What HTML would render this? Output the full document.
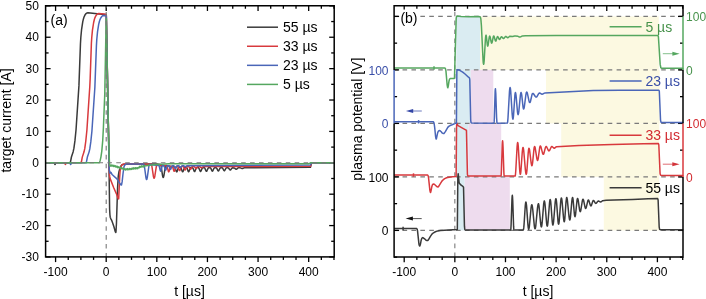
<!DOCTYPE html>
<html><head><meta charset="utf-8"><style>
html,body{margin:0;padding:0;background:#fff;}
svg{display:block;will-change:transform;font-family:"Liberation Sans",sans-serif;}
</style></head><body><svg width="706" height="299" viewBox="0 0 706 299" font-family="Liberation Sans, sans-serif"><rect width="706" height="299" fill="#fff"/><rect x="456.30" y="16.40" width="23.70" height="53.50" fill="#daecf2"/><rect x="480.00" y="16.40" width="178.80" height="53.50" fill="#fcf9e1"/><rect x="455.90" y="69.90" width="14.90" height="53.50" fill="#daecf2"/><rect x="470.80" y="69.90" width="22.50" height="53.50" fill="#eedcee"/><rect x="546.00" y="69.90" width="113.60" height="53.50" fill="#fcf9e1"/><rect x="456.80" y="123.40" width="11.60" height="53.50" fill="#daecf2"/><rect x="468.40" y="123.40" width="32.80" height="53.50" fill="#eedcee"/><rect x="561.20" y="123.40" width="98.00" height="53.50" fill="#fcf9e1"/><rect x="457.40" y="176.90" width="7.30" height="53.50" fill="#daecf2"/><rect x="464.70" y="176.90" width="45.10" height="53.50" fill="#eedcee"/><rect x="603.80" y="176.90" width="55.20" height="53.50" fill="#fcf9e1"/><line x1="394.10" y1="16.40" x2="683.00" y2="16.40" stroke="#7a7a7a" stroke-width="1.1" stroke-dasharray="4.6 4.32" stroke-dashoffset="0.5"/><line x1="394.10" y1="69.90" x2="683.00" y2="69.90" stroke="#7a7a7a" stroke-width="1.1" stroke-dasharray="4.6 4.32" stroke-dashoffset="0.5"/><line x1="394.10" y1="123.40" x2="683.00" y2="123.40" stroke="#7a7a7a" stroke-width="1.1" stroke-dasharray="4.6 4.32" stroke-dashoffset="0.5"/><line x1="394.10" y1="176.90" x2="683.00" y2="176.90" stroke="#7a7a7a" stroke-width="1.1" stroke-dasharray="4.6 4.32" stroke-dashoffset="0.5"/><line x1="394.10" y1="230.40" x2="683.00" y2="230.40" stroke="#7a7a7a" stroke-width="1.1" stroke-dasharray="4.6 4.32" stroke-dashoffset="0.5"/><line x1="454.84" y1="5.75" x2="454.84" y2="257.00" stroke="#7a7a7a" stroke-width="1.1" stroke-dasharray="4.6 4.32" stroke-dashoffset="3.0"/><line x1="55.58" y1="256.90" x2="55.58" y2="262.10" stroke="#000" stroke-width="1.3" /><line x1="55.58" y1="5.75" x2="55.58" y2="10.95" stroke="#000" stroke-width="1.3" /><line x1="68.24" y1="256.90" x2="68.24" y2="259.90" stroke="#000" stroke-width="1.3" /><line x1="68.24" y1="5.75" x2="68.24" y2="8.75" stroke="#000" stroke-width="1.3" /><line x1="80.89" y1="256.90" x2="80.89" y2="259.90" stroke="#000" stroke-width="1.3" /><line x1="80.89" y1="5.75" x2="80.89" y2="8.75" stroke="#000" stroke-width="1.3" /><line x1="93.55" y1="256.90" x2="93.55" y2="259.90" stroke="#000" stroke-width="1.3" /><line x1="93.55" y1="5.75" x2="93.55" y2="8.75" stroke="#000" stroke-width="1.3" /><line x1="106.20" y1="256.90" x2="106.20" y2="262.10" stroke="#000" stroke-width="1.3" /><line x1="106.20" y1="5.75" x2="106.20" y2="10.95" stroke="#000" stroke-width="1.3" /><line x1="118.86" y1="256.90" x2="118.86" y2="259.90" stroke="#000" stroke-width="1.3" /><line x1="118.86" y1="5.75" x2="118.86" y2="8.75" stroke="#000" stroke-width="1.3" /><line x1="131.51" y1="256.90" x2="131.51" y2="259.90" stroke="#000" stroke-width="1.3" /><line x1="131.51" y1="5.75" x2="131.51" y2="8.75" stroke="#000" stroke-width="1.3" /><line x1="144.16" y1="256.90" x2="144.16" y2="259.90" stroke="#000" stroke-width="1.3" /><line x1="144.16" y1="5.75" x2="144.16" y2="8.75" stroke="#000" stroke-width="1.3" /><line x1="156.82" y1="256.90" x2="156.82" y2="262.10" stroke="#000" stroke-width="1.3" /><line x1="156.82" y1="5.75" x2="156.82" y2="10.95" stroke="#000" stroke-width="1.3" /><line x1="169.47" y1="256.90" x2="169.47" y2="259.90" stroke="#000" stroke-width="1.3" /><line x1="169.47" y1="5.75" x2="169.47" y2="8.75" stroke="#000" stroke-width="1.3" /><line x1="182.13" y1="256.90" x2="182.13" y2="259.90" stroke="#000" stroke-width="1.3" /><line x1="182.13" y1="5.75" x2="182.13" y2="8.75" stroke="#000" stroke-width="1.3" /><line x1="194.78" y1="256.90" x2="194.78" y2="259.90" stroke="#000" stroke-width="1.3" /><line x1="194.78" y1="5.75" x2="194.78" y2="8.75" stroke="#000" stroke-width="1.3" /><line x1="207.44" y1="256.90" x2="207.44" y2="262.10" stroke="#000" stroke-width="1.3" /><line x1="207.44" y1="5.75" x2="207.44" y2="10.95" stroke="#000" stroke-width="1.3" /><line x1="220.09" y1="256.90" x2="220.09" y2="259.90" stroke="#000" stroke-width="1.3" /><line x1="220.09" y1="5.75" x2="220.09" y2="8.75" stroke="#000" stroke-width="1.3" /><line x1="232.75" y1="256.90" x2="232.75" y2="259.90" stroke="#000" stroke-width="1.3" /><line x1="232.75" y1="5.75" x2="232.75" y2="8.75" stroke="#000" stroke-width="1.3" /><line x1="245.40" y1="256.90" x2="245.40" y2="259.90" stroke="#000" stroke-width="1.3" /><line x1="245.40" y1="5.75" x2="245.40" y2="8.75" stroke="#000" stroke-width="1.3" /><line x1="258.06" y1="256.90" x2="258.06" y2="262.10" stroke="#000" stroke-width="1.3" /><line x1="258.06" y1="5.75" x2="258.06" y2="10.95" stroke="#000" stroke-width="1.3" /><line x1="270.71" y1="256.90" x2="270.71" y2="259.90" stroke="#000" stroke-width="1.3" /><line x1="270.71" y1="5.75" x2="270.71" y2="8.75" stroke="#000" stroke-width="1.3" /><line x1="283.37" y1="256.90" x2="283.37" y2="259.90" stroke="#000" stroke-width="1.3" /><line x1="283.37" y1="5.75" x2="283.37" y2="8.75" stroke="#000" stroke-width="1.3" /><line x1="296.02" y1="256.90" x2="296.02" y2="259.90" stroke="#000" stroke-width="1.3" /><line x1="296.02" y1="5.75" x2="296.02" y2="8.75" stroke="#000" stroke-width="1.3" /><line x1="308.68" y1="256.90" x2="308.68" y2="262.10" stroke="#000" stroke-width="1.3" /><line x1="308.68" y1="5.75" x2="308.68" y2="10.95" stroke="#000" stroke-width="1.3" /><line x1="321.33" y1="256.90" x2="321.33" y2="259.90" stroke="#000" stroke-width="1.3" /><line x1="321.33" y1="5.75" x2="321.33" y2="8.75" stroke="#000" stroke-width="1.3" /><line x1="333.99" y1="256.90" x2="333.99" y2="259.90" stroke="#000" stroke-width="1.3" /><line x1="333.99" y1="5.75" x2="333.99" y2="8.75" stroke="#000" stroke-width="1.3" /><line x1="45.60" y1="256.97" x2="50.60" y2="256.97" stroke="#000" stroke-width="1.3" /><line x1="334.20" y1="256.97" x2="329.20" y2="256.97" stroke="#000" stroke-width="1.3" /><line x1="45.60" y1="241.28" x2="48.60" y2="241.28" stroke="#000" stroke-width="1.3" /><line x1="334.20" y1="241.28" x2="331.20" y2="241.28" stroke="#000" stroke-width="1.3" /><line x1="45.60" y1="225.58" x2="50.60" y2="225.58" stroke="#000" stroke-width="1.3" /><line x1="334.20" y1="225.58" x2="329.20" y2="225.58" stroke="#000" stroke-width="1.3" /><line x1="45.60" y1="209.88" x2="48.60" y2="209.88" stroke="#000" stroke-width="1.3" /><line x1="334.20" y1="209.88" x2="331.20" y2="209.88" stroke="#000" stroke-width="1.3" /><line x1="45.60" y1="194.19" x2="50.60" y2="194.19" stroke="#000" stroke-width="1.3" /><line x1="334.20" y1="194.19" x2="329.20" y2="194.19" stroke="#000" stroke-width="1.3" /><line x1="45.60" y1="178.50" x2="48.60" y2="178.50" stroke="#000" stroke-width="1.3" /><line x1="334.20" y1="178.50" x2="331.20" y2="178.50" stroke="#000" stroke-width="1.3" /><line x1="45.60" y1="162.80" x2="50.60" y2="162.80" stroke="#000" stroke-width="1.3" /><line x1="334.20" y1="162.80" x2="329.20" y2="162.80" stroke="#000" stroke-width="1.3" /><line x1="45.60" y1="147.11" x2="48.60" y2="147.11" stroke="#000" stroke-width="1.3" /><line x1="334.20" y1="147.11" x2="331.20" y2="147.11" stroke="#000" stroke-width="1.3" /><line x1="45.60" y1="131.41" x2="50.60" y2="131.41" stroke="#000" stroke-width="1.3" /><line x1="334.20" y1="131.41" x2="329.20" y2="131.41" stroke="#000" stroke-width="1.3" /><line x1="45.60" y1="115.72" x2="48.60" y2="115.72" stroke="#000" stroke-width="1.3" /><line x1="334.20" y1="115.72" x2="331.20" y2="115.72" stroke="#000" stroke-width="1.3" /><line x1="45.60" y1="100.02" x2="50.60" y2="100.02" stroke="#000" stroke-width="1.3" /><line x1="334.20" y1="100.02" x2="329.20" y2="100.02" stroke="#000" stroke-width="1.3" /><line x1="45.60" y1="84.33" x2="48.60" y2="84.33" stroke="#000" stroke-width="1.3" /><line x1="334.20" y1="84.33" x2="331.20" y2="84.33" stroke="#000" stroke-width="1.3" /><line x1="45.60" y1="68.63" x2="50.60" y2="68.63" stroke="#000" stroke-width="1.3" /><line x1="334.20" y1="68.63" x2="329.20" y2="68.63" stroke="#000" stroke-width="1.3" /><line x1="45.60" y1="52.94" x2="48.60" y2="52.94" stroke="#000" stroke-width="1.3" /><line x1="334.20" y1="52.94" x2="331.20" y2="52.94" stroke="#000" stroke-width="1.3" /><line x1="45.60" y1="37.24" x2="50.60" y2="37.24" stroke="#000" stroke-width="1.3" /><line x1="334.20" y1="37.24" x2="329.20" y2="37.24" stroke="#000" stroke-width="1.3" /><line x1="45.60" y1="21.55" x2="48.60" y2="21.55" stroke="#000" stroke-width="1.3" /><line x1="334.20" y1="21.55" x2="331.20" y2="21.55" stroke="#000" stroke-width="1.3" /><line x1="45.60" y1="5.85" x2="50.60" y2="5.85" stroke="#000" stroke-width="1.3" /><line x1="334.20" y1="5.85" x2="329.20" y2="5.85" stroke="#000" stroke-width="1.3" /><line x1="404.20" y1="257.00" x2="404.20" y2="262.20" stroke="#000" stroke-width="1.3" /><line x1="404.20" y1="5.75" x2="404.20" y2="10.95" stroke="#000" stroke-width="1.3" /><line x1="416.86" y1="257.00" x2="416.86" y2="260.00" stroke="#000" stroke-width="1.3" /><line x1="416.86" y1="5.75" x2="416.86" y2="8.75" stroke="#000" stroke-width="1.3" /><line x1="429.52" y1="257.00" x2="429.52" y2="260.00" stroke="#000" stroke-width="1.3" /><line x1="429.52" y1="5.75" x2="429.52" y2="8.75" stroke="#000" stroke-width="1.3" /><line x1="442.18" y1="257.00" x2="442.18" y2="260.00" stroke="#000" stroke-width="1.3" /><line x1="442.18" y1="5.75" x2="442.18" y2="8.75" stroke="#000" stroke-width="1.3" /><line x1="454.84" y1="257.00" x2="454.84" y2="262.20" stroke="#000" stroke-width="1.3" /><line x1="454.84" y1="5.75" x2="454.84" y2="10.95" stroke="#000" stroke-width="1.3" /><line x1="467.50" y1="257.00" x2="467.50" y2="260.00" stroke="#000" stroke-width="1.3" /><line x1="467.50" y1="5.75" x2="467.50" y2="8.75" stroke="#000" stroke-width="1.3" /><line x1="480.16" y1="257.00" x2="480.16" y2="260.00" stroke="#000" stroke-width="1.3" /><line x1="480.16" y1="5.75" x2="480.16" y2="8.75" stroke="#000" stroke-width="1.3" /><line x1="492.82" y1="257.00" x2="492.82" y2="260.00" stroke="#000" stroke-width="1.3" /><line x1="492.82" y1="5.75" x2="492.82" y2="8.75" stroke="#000" stroke-width="1.3" /><line x1="505.48" y1="257.00" x2="505.48" y2="262.20" stroke="#000" stroke-width="1.3" /><line x1="505.48" y1="5.75" x2="505.48" y2="10.95" stroke="#000" stroke-width="1.3" /><line x1="518.14" y1="257.00" x2="518.14" y2="260.00" stroke="#000" stroke-width="1.3" /><line x1="518.14" y1="5.75" x2="518.14" y2="8.75" stroke="#000" stroke-width="1.3" /><line x1="530.80" y1="257.00" x2="530.80" y2="260.00" stroke="#000" stroke-width="1.3" /><line x1="530.80" y1="5.75" x2="530.80" y2="8.75" stroke="#000" stroke-width="1.3" /><line x1="543.46" y1="257.00" x2="543.46" y2="260.00" stroke="#000" stroke-width="1.3" /><line x1="543.46" y1="5.75" x2="543.46" y2="8.75" stroke="#000" stroke-width="1.3" /><line x1="556.12" y1="257.00" x2="556.12" y2="262.20" stroke="#000" stroke-width="1.3" /><line x1="556.12" y1="5.75" x2="556.12" y2="10.95" stroke="#000" stroke-width="1.3" /><line x1="568.78" y1="257.00" x2="568.78" y2="260.00" stroke="#000" stroke-width="1.3" /><line x1="568.78" y1="5.75" x2="568.78" y2="8.75" stroke="#000" stroke-width="1.3" /><line x1="581.44" y1="257.00" x2="581.44" y2="260.00" stroke="#000" stroke-width="1.3" /><line x1="581.44" y1="5.75" x2="581.44" y2="8.75" stroke="#000" stroke-width="1.3" /><line x1="594.10" y1="257.00" x2="594.10" y2="260.00" stroke="#000" stroke-width="1.3" /><line x1="594.10" y1="5.75" x2="594.10" y2="8.75" stroke="#000" stroke-width="1.3" /><line x1="606.76" y1="257.00" x2="606.76" y2="262.20" stroke="#000" stroke-width="1.3" /><line x1="606.76" y1="5.75" x2="606.76" y2="10.95" stroke="#000" stroke-width="1.3" /><line x1="619.42" y1="257.00" x2="619.42" y2="260.00" stroke="#000" stroke-width="1.3" /><line x1="619.42" y1="5.75" x2="619.42" y2="8.75" stroke="#000" stroke-width="1.3" /><line x1="632.08" y1="257.00" x2="632.08" y2="260.00" stroke="#000" stroke-width="1.3" /><line x1="632.08" y1="5.75" x2="632.08" y2="8.75" stroke="#000" stroke-width="1.3" /><line x1="644.74" y1="257.00" x2="644.74" y2="260.00" stroke="#000" stroke-width="1.3" /><line x1="644.74" y1="5.75" x2="644.74" y2="8.75" stroke="#000" stroke-width="1.3" /><line x1="657.40" y1="257.00" x2="657.40" y2="262.20" stroke="#000" stroke-width="1.3" /><line x1="657.40" y1="5.75" x2="657.40" y2="10.95" stroke="#000" stroke-width="1.3" /><line x1="670.06" y1="257.00" x2="670.06" y2="260.00" stroke="#000" stroke-width="1.3" /><line x1="670.06" y1="5.75" x2="670.06" y2="8.75" stroke="#000" stroke-width="1.3" /><line x1="682.72" y1="257.00" x2="682.72" y2="260.00" stroke="#000" stroke-width="1.3" /><line x1="682.72" y1="5.75" x2="682.72" y2="8.75" stroke="#000" stroke-width="1.3" /><line x1="394.10" y1="257.15" x2="397.10" y2="257.15" stroke="#000" stroke-width="1.3" /><line x1="683.00" y1="257.15" x2="680.00" y2="257.15" stroke="#000" stroke-width="1.3" /><line x1="394.10" y1="230.40" x2="399.10" y2="230.40" stroke="#000" stroke-width="1.3" /><line x1="683.00" y1="230.40" x2="678.00" y2="230.40" stroke="#000" stroke-width="1.3" /><line x1="394.10" y1="203.65" x2="397.10" y2="203.65" stroke="#000" stroke-width="1.3" /><line x1="683.00" y1="203.65" x2="680.00" y2="203.65" stroke="#000" stroke-width="1.3" /><line x1="394.10" y1="176.90" x2="399.10" y2="176.90" stroke="#000" stroke-width="1.3" /><line x1="683.00" y1="176.90" x2="678.00" y2="176.90" stroke="#000" stroke-width="1.3" /><line x1="394.10" y1="150.15" x2="397.10" y2="150.15" stroke="#000" stroke-width="1.3" /><line x1="683.00" y1="150.15" x2="680.00" y2="150.15" stroke="#000" stroke-width="1.3" /><line x1="394.10" y1="123.40" x2="399.10" y2="123.40" stroke="#000" stroke-width="1.3" /><line x1="683.00" y1="123.40" x2="678.00" y2="123.40" stroke="#000" stroke-width="1.3" /><line x1="394.10" y1="96.65" x2="397.10" y2="96.65" stroke="#000" stroke-width="1.3" /><line x1="683.00" y1="96.65" x2="680.00" y2="96.65" stroke="#000" stroke-width="1.3" /><line x1="394.10" y1="69.90" x2="399.10" y2="69.90" stroke="#000" stroke-width="1.3" /><line x1="683.00" y1="69.90" x2="678.00" y2="69.90" stroke="#000" stroke-width="1.3" /><line x1="394.10" y1="43.15" x2="397.10" y2="43.15" stroke="#000" stroke-width="1.3" /><line x1="683.00" y1="43.15" x2="680.00" y2="43.15" stroke="#000" stroke-width="1.3" /><line x1="394.10" y1="16.40" x2="399.10" y2="16.40" stroke="#000" stroke-width="1.3" /><line x1="683.00" y1="16.40" x2="678.00" y2="16.40" stroke="#000" stroke-width="1.3" /><path d="M45.46 162.80L54.11 162.80L54.34 163.03L54.80 164.14L55.02 164.37L55.25 164.14L55.71 163.03L55.93 162.80L70.21 162.80L70.51 161.79L71.42 156.99L73.17 151.66L73.93 148.21L74.92 140.91L76.06 129.55L78.94 85.63L80.46 43.74L80.84 37.21L81.60 29.27L82.74 21.92L83.42 18.92L84.03 17.02L84.94 15.07L86.08 13.58L86.84 12.98L87.98 12.76L106.28 14.68L108.63 139.98L109.62 209.24L109.92 214.76L110.22 217.14L110.76 218.60L111.82 220.71L112.65 222.90L113.94 226.69L115.16 231.35L115.69 232.44L115.84 232.46L115.99 231.44L116.45 223.50L117.59 187.43L118.27 176.04L118.96 171.63L120.10 167.72L120.93 166.00L121.92 164.88L122.60 164.42L129.97 164.04L136.50 163.90L156.92 164.06L160.41 164.41L160.79 164.88L161.10 165.98L162.54 175.54L162.92 177.09L163.22 177.48L163.53 177.08L163.91 175.55L165.27 166.91L165.58 165.87L165.96 165.46L174.54 167.04L174.84 167.32L175.14 167.90L176.21 171.21L176.66 171.88L176.89 171.81L177.19 171.31L178.18 168.31L178.64 167.47L179.09 167.25L180.46 167.31L180.76 167.53L181.07 168.03L182.13 171.12L182.43 171.68L182.66 171.82L182.89 171.69L183.19 171.14L184.33 167.95L184.64 167.54L185.02 167.38L186.31 167.41L186.76 167.70L187.22 168.59L188.13 171.16L188.58 171.71L188.81 171.62L189.12 171.13L190.25 168.08L190.63 167.60L191.01 167.48L192.23 167.51L192.68 167.76L193.14 168.57L194.05 171.02L194.51 171.59L194.73 171.53L195.04 171.09L196.25 168.06L196.56 167.71L196.94 167.58L198.23 167.60L198.68 167.89L199.14 168.71L200.05 171.02L200.51 171.46L200.73 171.35L201.04 170.88L202.18 168.15L202.56 167.74L202.93 167.65L204.15 167.67L204.61 167.92L205.06 168.67L205.97 170.85L206.43 171.31L206.66 171.23L206.96 170.81L208.10 168.22L208.48 167.81L208.86 167.71L210.07 167.72L210.53 167.94L210.98 168.61L211.89 170.67L212.20 171.07L212.43 171.15L212.88 170.72L213.87 168.53L214.32 167.92L214.78 167.76L216.22 167.81L216.83 168.41L217.89 170.60L218.35 170.97L218.58 170.88L218.88 170.48L220.02 168.20L220.32 167.91L220.70 167.79L221.99 167.80L222.45 168.00L222.90 168.61L223.82 170.40L224.27 170.78L224.50 170.71L224.80 170.37L225.94 168.23L226.32 167.89L226.70 167.81L227.92 167.82L228.37 167.95L228.83 168.38L229.74 169.71L230.27 170.01L230.73 169.74L231.94 168.09L232.62 167.82L234.37 167.94L235.74 169.14L236.19 169.31L236.72 169.08L237.86 168.02L238.55 167.82L240.29 167.87L242.11 168.60L242.65 168.49L243.79 167.92L244.54 167.80L310.45 167.25L311.51 162.80L333.99 162.80" fill="none" stroke="#3a3a3a" stroke-width="1.5" stroke-linejoin="round"/><path d="M45.46 162.80L64.51 162.80L64.74 163.08L65.20 164.19L65.43 164.37L65.65 164.09L66.11 162.98L66.34 162.80L81.07 162.80L81.52 161.27L82.28 157.12L84.03 151.80L84.79 148.43L85.77 141.24L86.91 130.02L89.80 86.47L90.18 78.38L91.39 43.26L91.77 37.21L92.46 30.15L93.60 22.75L94.28 19.73L94.89 17.81L95.80 15.85L96.86 14.44L97.70 13.74L98.83 13.51L106.28 14.28L106.81 39.09L107.87 102.70L109.39 174.10L109.77 176.92L110.53 179.63L113.72 187.73L116.45 193.87L117.82 197.84L118.42 198.84L118.58 198.90L118.65 198.73L118.73 197.96L119.64 177.72L120.02 171.94L120.32 169.48L120.78 167.20L121.46 165.54L121.84 165.04L122.37 164.64L123.59 164.09L130.19 163.82L137.26 163.74L144.47 163.88L151.15 164.18L151.53 164.82L151.91 166.38L153.50 176.85L153.81 177.89L154.11 178.23L154.49 177.62L154.87 175.97L156.31 166.58L156.69 165.21L157.07 164.76L166.72 165.99L167.02 166.33L167.25 166.87L168.31 171.18L168.54 171.71L168.77 171.85L168.99 171.58L169.22 170.94L170.21 167.11L170.51 166.55L170.89 166.38L172.11 166.42L172.49 166.71L172.87 167.56L173.78 170.79L174.16 171.34L174.39 171.20L174.61 170.73L175.68 167.10L175.98 166.60L176.36 166.44L177.57 166.45L177.95 166.70L178.33 167.42L179.24 170.17L179.62 170.64L179.85 170.52L180.08 170.12L181.14 167.03L181.45 166.61L181.83 166.47L183.04 166.48L183.42 166.68L183.80 167.28L184.71 169.55L185.09 169.93L185.32 169.84L185.55 169.50L186.61 166.96L186.91 166.61L187.29 166.49L188.51 166.50L188.89 166.66L189.27 167.13L190.18 168.92L190.56 169.22L191.01 168.88L192.08 166.88L192.38 166.60L192.76 166.51L193.98 166.52L194.35 166.63L194.73 166.98L195.65 168.29L196.03 168.51L196.48 168.26L197.54 166.80L198.23 166.53L199.82 166.61L201.11 167.65L201.49 167.79L201.95 167.64L203.01 166.71L203.69 166.54L258.14 166.54L310.45 166.30L311.51 162.80L333.99 162.80" fill="none" stroke="#d8393d" stroke-width="1.5" stroke-linejoin="round"/><path d="M45.46 162.80L69.75 162.80L69.98 163.03L70.44 164.14L70.66 164.37L70.89 164.14L71.35 163.03L71.58 162.80L86.15 162.80L86.61 161.17L87.37 157.10L89.04 152.12L89.80 148.90L90.79 141.95L91.93 131.03L94.89 87.02L96.41 45.89L96.78 39.47L97.54 31.67L98.68 24.45L99.37 21.51L99.97 19.64L100.88 17.73L102.02 16.27L102.78 15.67L103.92 15.46L106.28 15.70L106.35 17.05L107.87 102.69L109.09 164.11L109.31 169.85L109.92 173.08L110.00 173.16L110.15 173.06L110.68 172.24L110.98 172.36L111.89 174.22L112.35 174.81L116.07 178.10L116.98 179.08L118.42 181.12L119.72 183.31L121.08 184.99L121.39 185.09L121.54 184.87L122.15 181.63L122.98 173.99L123.97 166.94L124.35 165.87L124.88 164.98L125.64 164.35L126.32 164.06L136.80 163.90L143.71 164.10L144.09 164.93L144.47 166.77L145.99 177.92L146.29 179.14L146.59 179.58L146.75 179.48L146.97 178.96L147.35 177.18L148.87 166.27L149.18 165.06L149.56 164.49L158.82 165.60L159.28 166.32L160.19 170.21L160.41 170.87L160.64 171.08L161.02 170.35L161.93 166.54L162.24 165.94L162.54 165.78L163.68 165.79L164.06 166.03L164.44 166.92L165.20 169.69L165.58 170.24L165.96 169.69L166.94 166.30L167.25 165.87L167.55 165.78L168.69 165.79L169.07 166.04L170.13 168.85L170.51 169.35L170.74 169.22L170.97 168.79L171.88 166.23L172.18 165.86L172.49 165.77L173.63 165.77L174.01 165.94L174.39 166.50L175.14 168.17L175.52 168.46L175.90 168.08L176.81 166.14L177.12 165.84L177.42 165.76L178.94 165.85L179.32 166.21L180.08 167.34L180.46 167.57L180.84 167.34L181.83 165.95L182.36 165.74L183.88 165.78L185.02 166.54L185.39 166.67L185.85 166.52L186.76 165.84L187.37 165.72L310.45 165.05L311.51 162.80L333.99 162.80" fill="none" stroke="#4a66b8" stroke-width="1.5" stroke-linejoin="round"/><path d="M45.46 162.80L99.14 162.80L99.67 162.08L100.20 160.39L100.96 156.82L101.80 151.10L102.71 140.70L103.39 127.94L104.76 94.26L105.90 33.12L106.35 18.41L108.48 131.71L109.31 159.70L109.69 165.13L110.15 166.22L110.60 165.44L110.98 165.48L111.36 165.00L111.89 166.20L112.35 165.17L112.73 165.65L113.11 165.62L113.57 166.48L114.02 165.35L114.48 166.32L114.86 166.25L115.24 166.65L115.69 165.74L116.22 167.10L116.60 166.63L116.98 166.82L117.36 166.37L117.89 167.73L118.27 166.93L118.42 166.83L118.73 167.24L119.11 167.20L119.56 168.21L120.10 167.12L120.47 168.00L120.85 168.01L121.23 168.51L121.77 167.57L122.22 168.89L122.60 168.57L122.98 168.79L123.44 168.29L123.89 169.66L124.04 169.58L124.42 168.85L124.73 169.17L125.03 169.03L125.18 169.09L125.56 170.03L126.09 168.81L126.47 169.45L126.85 169.36L127.31 169.77L127.76 168.59L128.30 169.65L128.68 169.19L128.90 169.30L129.05 169.24L129.43 168.48L129.97 169.67L130.42 168.71L130.80 168.84L131.11 168.50L131.64 169.46L132.02 168.33L132.17 168.17L132.47 168.66L132.93 168.58L133.31 169.06L133.69 167.95L133.84 167.81L134.29 168.80L134.67 168.44L135.05 168.56L135.36 167.82L135.51 167.72L135.96 168.92L136.42 168.09L136.80 168.19L137.18 167.79L137.64 168.81L138.17 167.41L138.55 167.67L138.93 167.32L139.31 167.74L139.84 166.30L140.22 167.08L140.37 167.13L140.67 166.80L141.05 166.93L141.51 165.89L141.89 166.91L142.04 167.03L142.42 166.28L142.80 166.31L143.18 165.78L143.63 166.85L143.79 166.71L144.09 165.76L144.17 166.10L149.56 165.25L153.66 164.78L168.99 163.85L174.99 163.74L308.63 163.80L310.45 162.80L333.99 162.80" fill="none" stroke="#55a75f" stroke-width="1.5" stroke-linejoin="round"/><line x1="45.60" y1="162.80" x2="334.20" y2="162.80" stroke="#7a7a7a" stroke-width="1.1" stroke-dasharray="4.6 4.32" stroke-dashoffset="0.7"/><line x1="106.20" y1="5.75" x2="106.20" y2="256.90" stroke="#7a7a7a" stroke-width="1.1" stroke-dasharray="4.6 4.32" stroke-dashoffset="2.6"/><path d="M394.07 228.47L416.74 228.53L417.29 229.66L417.53 230.91L418.99 244.40L419.35 245.57L419.72 246.07L420.02 245.65L420.45 244.16L421.05 240.78L421.42 239.40L421.78 238.39L422.21 237.85L422.63 237.62L423.18 237.77L424.58 238.79L426.04 240.20L427.07 240.56L427.74 240.58L428.22 240.05L430.41 236.37L431.93 234.17L433.51 232.80L435.39 231.76L437.82 230.90L440.38 230.48L457.33 229.60L457.82 178.07L458.18 173.69L459.09 182.79L460.25 184.33L461.46 185.38L462.86 186.30L463.53 187.29L464.44 226.15L464.75 229.17L464.87 229.54L465.35 229.90L510.69 229.92L510.87 228.96L511.11 224.61L511.96 199.23L512.14 196.26L512.33 195.31L512.51 196.49L512.75 201.11L513.60 226.41L513.78 229.17L513.97 229.92L523.26 229.92L523.45 229.71L523.75 227.92L524.05 224.51L525.27 205.75L525.57 203.00L525.88 201.99L526.18 202.73L526.55 205.58L527.88 224.21L528.19 227.28L528.49 228.99L528.67 229.28L528.86 229.07L529.28 227.08L531.04 208.19L531.47 205.44L531.65 204.88L531.83 204.72L532.02 204.95L532.26 205.83L532.68 208.76L534.32 225.91L534.69 228.05L534.87 228.61L535.05 228.80L535.24 228.61L535.42 228.07L535.78 225.96L537.48 208.03L537.91 204.99L538.34 203.72L538.52 203.80L538.64 204.08L539.00 206.00L540.64 223.63L541.07 226.35L541.25 226.86L541.43 226.96L541.80 225.71L542.16 222.70L543.68 203.84L544.11 201.26L544.29 200.93L544.47 201.09L544.78 202.39L545.14 205.48L546.60 223.17L546.96 225.56L547.27 226.17L547.45 225.89L547.63 225.12L548.00 222.21L549.58 202.29L549.94 199.96L550.12 199.52L550.31 199.59L550.61 200.95L550.91 203.74L552.25 221.70L552.62 224.40L552.80 224.94L552.92 224.98L553.28 223.86L553.65 221.04L555.23 201.87L555.59 199.41L555.78 198.82L555.96 198.69L556.26 199.70L556.63 202.82L558.02 221.39L558.33 223.55L558.51 224.12L558.63 224.19L558.94 223.27L559.24 220.94L560.64 202.39L560.94 199.60L561.24 198.15L561.43 197.99L561.61 198.33L561.97 200.32L563.55 218.23L563.92 220.81L564.10 221.47L564.28 221.68L564.53 221.04L564.83 218.68L565.98 202.35L566.53 197.80L566.71 197.50L566.90 197.71L567.32 199.65L569.02 216.74L569.45 219.34L569.63 219.87L569.81 220.02L570.12 219.28L570.42 217.31L571.82 201.38L572.18 198.60L572.55 197.50L572.79 197.87L573.09 199.64L574.37 213.96L574.67 216.04L574.98 216.70L575.28 216.03L575.65 213.79L576.98 200.71L577.29 199.00L577.59 198.41L577.90 198.84L578.20 200.08L579.54 209.56L579.90 211.19L580.20 211.67L580.51 211.36L580.81 210.36L582.27 201.25L582.64 199.76L583.00 199.21L583.30 199.49L583.67 200.56L585.07 207.36L585.37 208.17L585.67 208.41L585.98 208.11L586.34 207.13L587.74 201.09L588.04 200.32L588.35 200.01L588.65 200.18L588.95 200.74L590.23 204.91L590.60 205.68L590.90 205.90L591.14 205.78L591.45 205.30L592.78 201.25L593.09 200.69L593.39 200.49L593.69 200.60L594.00 200.90L595.34 203.06L595.88 203.38L596.49 203.05L597.71 201.40L598.25 201.00L598.80 201.06L600.08 201.86L600.68 201.99L601.23 201.76L602.69 200.70L606.21 200.32L614.23 199.94L632.53 199.41L648.26 198.80L657.68 198.62L658.11 199.91L659.20 227.22L659.63 229.33L660.18 229.70L682.66 229.70L682.72 230.40" fill="none" stroke="#3a3a3a" stroke-width="1.5" stroke-linejoin="round"/><path d="M394.07 174.97L427.68 175.00L428.16 175.85L428.47 177.08L429.86 190.09L430.23 191.96L430.47 192.52L430.72 192.09L431.08 190.65L431.69 187.28L432.17 185.50L432.54 184.68L433.15 184.13L433.57 184.02L434.12 184.21L435.46 185.28L436.67 186.52L437.52 186.93L438.07 187.00L438.68 186.38L441.90 181.12L443.29 179.66L444.75 178.63L446.58 177.80L448.88 177.19L452.35 176.67L456.12 176.47L456.54 128.59L456.60 125.68L456.91 123.24L457.45 124.68L458.06 125.61L466.08 130.06L466.45 130.56L467.42 174.31L467.78 175.76L468.15 176.00L469.00 176.10L501.02 176.10L501.21 174.94L501.45 170.08L502.24 145.05L502.42 141.83L502.60 140.79L502.79 142.00L503.03 146.72L503.88 172.52L504.06 175.34L504.24 176.10L515.06 176.10L515.18 176.02L515.49 174.29L515.79 170.54L517.07 147.02L517.37 143.71L517.67 142.50L517.98 143.47L518.28 146.37L519.62 169.07L519.98 173.03L520.29 174.27L520.41 174.20L520.59 173.60L520.89 171.33L522.29 151.79L522.66 148.50L522.96 147.44L523.14 147.55L523.33 148.08L523.69 150.30L525.39 169.97L525.82 173.15L526.06 174.07L526.24 174.28L526.55 173.49L526.91 170.63L528.19 153.27L528.49 150.25L528.79 148.56L528.98 148.28L529.16 148.44L529.58 150.06L531.16 163.06L531.59 165.20L531.77 165.62L531.95 165.71L532.26 164.95L532.62 162.60L533.96 149.07L534.26 147.24L534.57 146.52L534.87 146.80L535.24 148.02L536.82 158.27L537.24 159.97L537.61 160.42L537.91 159.93L538.21 158.62L539.61 148.24L539.98 146.53L540.28 145.98L540.58 146.14L540.95 146.88L542.53 153.12L542.89 154.01L543.26 154.32L543.56 154.10L543.87 153.47L545.32 147.85L545.69 146.90L546.05 146.52L546.36 146.60L546.72 147.02L548.24 150.29L548.61 150.76L548.97 150.90L549.33 150.70L549.70 150.20L551.22 147.02L551.52 146.66L551.83 146.51L552.37 146.69L553.71 148.04L554.32 148.28L554.86 148.06L556.08 146.89L556.63 146.63L579.05 145.53L612.23 144.48L643.65 143.78L658.41 143.62L658.78 144.67L658.84 145.26L660.05 173.00L660.11 173.78L660.54 175.08L661.21 175.40L682.66 175.40L682.72 176.90" fill="none" stroke="#d8393d" stroke-width="1.5" stroke-linejoin="round"/><path d="M394.07 121.80L433.33 121.81L433.57 122.08L433.94 122.89L434.24 124.24L434.67 127.29L435.58 136.47L435.88 138.19L436.18 139.07L436.43 138.57L437.70 132.70L438.19 131.43L438.80 130.80L439.34 130.53L439.89 130.62L441.23 131.75L442.38 133.16L443.35 133.59L443.66 133.61L443.96 133.46L445.36 131.66L447.79 127.38L448.76 126.37L450.10 125.51L452.11 124.79L453.75 123.97L454.84 123.59L455.14 123.35L456.42 123.14L456.85 71.39L457.21 69.78L457.88 69.69L459.34 70.02L462.68 72.08L464.75 73.74L468.51 77.23L469.18 77.68L469.55 78.23L469.79 79.97L470.70 120.27L471.07 122.71L471.73 123.09L493.97 123.13L494.16 121.90L494.34 118.10L495.13 91.84L495.31 89.13L495.43 88.82L495.80 93.58L496.59 117.37L496.95 122.97L497.07 123.13L507.34 123.11L507.65 121.81L508.01 117.73L509.47 91.66L509.77 88.61L510.08 87.50L510.38 88.33L510.69 90.85L512.20 114.41L512.57 117.97L512.75 118.89L512.93 119.17L513.24 118.13L513.54 115.29L514.88 95.34L515.18 93.00L515.43 92.48L515.73 93.26L516.09 95.88L517.49 112.03L517.80 113.98L518.10 114.63L518.46 113.78L518.89 110.93L520.41 95.10L520.77 93.04L521.08 92.48L521.38 93.06L521.75 95.16L523.08 107.31L523.39 108.69L523.63 109.01L523.93 108.55L524.30 107.01L525.88 94.79L526.30 92.67L526.67 92.00L527.03 92.30L527.40 93.28L528.98 100.89L529.40 102.19L529.77 102.59L530.07 102.38L530.44 101.53L531.95 94.86L532.32 93.81L532.68 93.39L533.05 93.46L533.47 93.79L535.30 96.48L535.78 96.94L536.21 97.08L536.57 96.96L536.94 96.62L538.64 93.67L539.06 93.19L539.49 93.01L540.16 93.19L541.50 94.06L542.10 94.19L542.65 94.06L543.99 93.31L544.66 93.12L593.33 90.60L619.76 90.27L658.90 90.23L659.32 91.30L660.54 120.19L660.97 122.13L661.45 122.49L682.66 122.49L682.72 123.40" fill="none" stroke="#4a66b8" stroke-width="1.5" stroke-linejoin="round"/><path d="M394.07 67.97L444.87 67.98L445.42 68.59L445.91 70.65L447.18 85.12L447.55 87.20L447.73 87.72L447.85 87.74L448.28 86.12L449.07 80.72L449.61 79.01L450.22 78.57L454.05 78.46L454.48 78.04L456.18 18.44L456.54 16.71L456.91 16.19L457.15 16.08L461.16 16.45L468.94 16.75L479.27 16.62L480.00 16.78L480.42 17.10L480.85 18.91L481.40 25.66L483.04 59.89L483.28 63.06L483.64 64.17L483.89 63.46L484.19 60.53L485.35 40.18L485.65 36.58L485.95 35.14L486.14 35.33L486.38 36.49L487.29 44.59L487.53 45.82L487.72 46.09L487.90 45.86L488.14 44.94L489.17 37.63L489.42 36.52L489.66 36.09L489.84 36.20L490.09 36.76L491.18 41.99L491.48 42.89L491.73 43.09L491.97 42.79L492.21 42.00L493.25 36.80L493.49 36.15L493.67 35.98L493.91 36.15L494.22 36.82L495.25 40.50L495.49 40.98L495.74 41.11L495.98 40.88L496.22 40.31L497.13 37.13L497.56 36.52L497.99 36.82L499.08 39.10L499.57 39.51L499.99 39.19L501.02 37.16L501.51 36.73L501.94 36.91L503.03 38.25L503.52 38.50L504.00 38.26L505.10 36.85L505.64 36.47L506.13 36.57L507.22 37.49L507.77 37.69L508.26 37.53L509.41 36.50L509.96 36.25L512.69 36.57L514.64 36.03L515.43 35.99L517.98 36.34L519.38 36.95L519.98 37.05L520.65 36.86L522.35 35.92L525.51 35.66L556.14 35.53L657.99 35.45L658.41 36.73L660.18 64.39L660.84 67.76L661.45 68.19L682.66 68.19L682.72 69.90" fill="none" stroke="#55a75f" stroke-width="1.5" stroke-linejoin="round"/><line x1="434.00" y1="66.27" x2="434.00" y2="69.67" stroke="#55a75f" stroke-width="1.5" /><line x1="418.60" y1="120.09" x2="418.60" y2="123.50" stroke="#4a66b8" stroke-width="1.5" /><line x1="413.50" y1="173.33" x2="413.50" y2="176.73" stroke="#d8393d" stroke-width="1.5" /><line x1="403.10" y1="226.77" x2="403.10" y2="230.17" stroke="#3a3a3a" stroke-width="1.5" /><rect x="45.6" y="5.75" width="288.60" height="251.15" fill="none" stroke="#000" stroke-width="1.5"/><text x="55.58" y="275.90" font-size="12" text-anchor="middle" fill="#000" >-100</text><text x="106.20" y="275.90" font-size="12" text-anchor="middle" fill="#000" >0</text><text x="156.82" y="275.90" font-size="12" text-anchor="middle" fill="#000" >100</text><text x="207.44" y="275.90" font-size="12" text-anchor="middle" fill="#000" >200</text><text x="258.06" y="275.90" font-size="12" text-anchor="middle" fill="#000" >300</text><text x="308.68" y="275.90" font-size="12" text-anchor="middle" fill="#000" >400</text><text x="38.90" y="261.17" font-size="12" text-anchor="end" fill="#000" >-30</text><text x="38.90" y="229.78" font-size="12" text-anchor="end" fill="#000" >-20</text><text x="38.90" y="198.39" font-size="12" text-anchor="end" fill="#000" >-10</text><text x="38.90" y="167.00" font-size="12" text-anchor="end" fill="#000" >0</text><text x="38.90" y="135.61" font-size="12" text-anchor="end" fill="#000" >10</text><text x="38.90" y="104.22" font-size="12" text-anchor="end" fill="#000" >20</text><text x="38.90" y="72.83" font-size="12" text-anchor="end" fill="#000" >30</text><text x="38.90" y="41.44" font-size="12" text-anchor="end" fill="#000" >40</text><text x="38.90" y="10.05" font-size="12" text-anchor="end" fill="#000" >50</text><text x="189.50" y="296.20" font-size="14" text-anchor="middle" fill="#000" >t [&#181;s]</text><text x="0" y="0" font-size="14" text-anchor="middle" fill="#000" transform="translate(10.8 120.4) rotate(-90)">target current [A]</text><text x="50.60" y="24.60" font-size="14" text-anchor="start" fill="#000" >(a)</text><line x1="247.00" y1="27.20" x2="278.00" y2="27.20" stroke="#3a3a3a" stroke-width="1.5" /><text x="283.00" y="32.20" font-size="14" text-anchor="start" fill="#000" >55 &#181;s</text><line x1="247.00" y1="46.27" x2="278.00" y2="46.27" stroke="#d8393d" stroke-width="1.5" /><text x="283.00" y="51.27" font-size="14" text-anchor="start" fill="#000" >33 &#181;s</text><line x1="247.00" y1="65.34" x2="278.00" y2="65.34" stroke="#4a66b8" stroke-width="1.5" /><text x="283.00" y="70.34" font-size="14" text-anchor="start" fill="#000" >23 &#181;s</text><line x1="247.00" y1="84.41" x2="278.00" y2="84.41" stroke="#55a75f" stroke-width="1.5" /><text x="283.00" y="89.41" font-size="14" text-anchor="start" fill="#000" >5 &#181;s</text><line x1="394.10" y1="5.75" x2="683.00" y2="5.75" stroke="#000" stroke-width="1.5" /><line x1="394.10" y1="257.00" x2="683.00" y2="257.00" stroke="#000" stroke-width="1.5" /><line x1="394.10" y1="5.00" x2="394.10" y2="69.90" stroke="#000" stroke-width="1.5" /><line x1="394.10" y1="69.90" x2="394.10" y2="123.40" stroke="#4a66b8" stroke-width="1.5" /><line x1="394.10" y1="123.40" x2="394.10" y2="257.75" stroke="#000" stroke-width="1.5" /><line x1="683.00" y1="5.00" x2="683.00" y2="16.40" stroke="#000" stroke-width="1.5" /><line x1="683.00" y1="16.40" x2="683.00" y2="69.90" stroke="#55a75f" stroke-width="1.5" /><line x1="683.00" y1="69.90" x2="683.00" y2="123.40" stroke="#000" stroke-width="1.5" /><line x1="683.00" y1="123.40" x2="683.00" y2="176.90" stroke="#d8393d" stroke-width="1.5" /><line x1="683.00" y1="176.90" x2="683.00" y2="257.75" stroke="#000" stroke-width="1.5" /><text x="404.20" y="275.90" font-size="12" text-anchor="middle" fill="#000" >-100</text><text x="454.84" y="275.90" font-size="12" text-anchor="middle" fill="#000" >0</text><text x="505.48" y="275.90" font-size="12" text-anchor="middle" fill="#000" >100</text><text x="556.12" y="275.90" font-size="12" text-anchor="middle" fill="#000" >200</text><text x="606.76" y="275.90" font-size="12" text-anchor="middle" fill="#000" >300</text><text x="657.40" y="275.90" font-size="12" text-anchor="middle" fill="#000" >400</text><text x="388.50" y="74.70" font-size="12" text-anchor="end" fill="#3a4fa8" >100</text><text x="388.50" y="128.20" font-size="12" text-anchor="end" fill="#3a4fa8" >0</text><text x="388.50" y="181.70" font-size="12" text-anchor="end" fill="#000" >100</text><text x="388.50" y="235.20" font-size="12" text-anchor="end" fill="#000" >0</text><text x="686.10" y="21.20" font-size="12" text-anchor="start" fill="#47924b" >100</text><text x="686.10" y="74.70" font-size="12" text-anchor="start" fill="#47924b" >0</text><text x="686.10" y="128.20" font-size="12" text-anchor="start" fill="#d22a30" >100</text><text x="686.10" y="181.70" font-size="12" text-anchor="start" fill="#d22a30" >0</text><text x="538.00" y="296.20" font-size="14" text-anchor="middle" fill="#000" >t [&#181;s]</text><text x="0" y="0" font-size="14" text-anchor="middle" fill="#000" transform="translate(361.6 119.2) rotate(-90)">plasma potential [V]</text><rect x="399.60" y="9.50" width="20.00" height="14.50" fill="#fff"/><text x="400.40" y="23.20" font-size="14" text-anchor="start" fill="#000" >(b)</text><line x1="609.60" y1="26.80" x2="641.60" y2="26.80" stroke="#55a75f" stroke-width="1.5" /><text x="645.40" y="31.80" font-size="14" text-anchor="start" fill="#47924b" >5 &#181;s</text><line x1="609.60" y1="81.00" x2="641.60" y2="81.00" stroke="#4a66b8" stroke-width="1.5" /><text x="645.40" y="86.00" font-size="14" text-anchor="start" fill="#3a4fa8" >23 &#181;s</text><line x1="609.60" y1="135.20" x2="641.60" y2="135.20" stroke="#d8393d" stroke-width="1.5" /><text x="645.40" y="140.20" font-size="14" text-anchor="start" fill="#d22a30" >33 &#181;s</text><line x1="609.60" y1="187.80" x2="641.60" y2="187.80" stroke="#3a3a3a" stroke-width="1.5" /><text x="645.40" y="192.80" font-size="14" text-anchor="start" fill="#000" >55 &#181;s</text><line x1="421.80" y1="111.00" x2="412.47" y2="111.00" stroke="#3346a6" stroke-width="0.85" stroke-opacity="0.85"/><path d="M405.90 111.00L413.20 109.00L413.20 113.00Z" fill="#3346a6"/><line x1="421.70" y1="218.60" x2="412.17" y2="218.60" stroke="#111" stroke-width="0.85" stroke-opacity="0.85"/><path d="M405.60 218.60L412.90 216.60L412.90 220.60Z" fill="#111"/><line x1="662.80" y1="53.70" x2="673.13" y2="53.70" stroke="#55a75f" stroke-width="0.85" stroke-opacity="0.85"/><path d="M679.70 53.70L672.40 51.70L672.40 55.70Z" fill="#55a75f"/><line x1="662.80" y1="164.20" x2="673.03" y2="164.20" stroke="#d3343a" stroke-width="0.85" stroke-opacity="0.85"/><path d="M679.60 164.20L672.30 162.20L672.30 166.20Z" fill="#d3343a"/></svg></body></html>
